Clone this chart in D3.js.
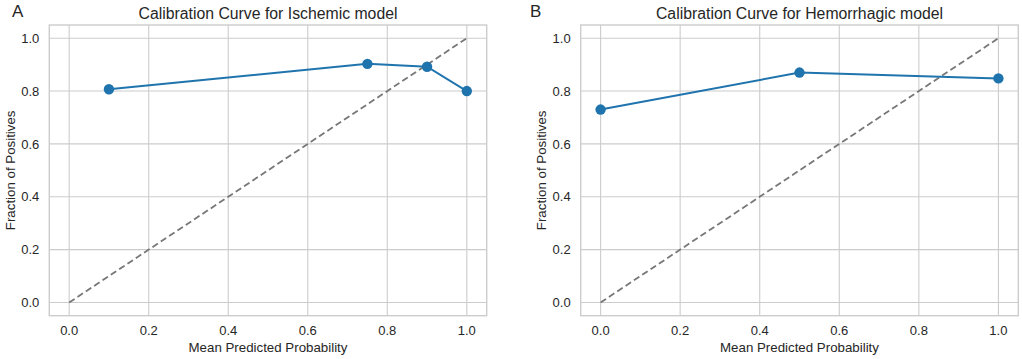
<!DOCTYPE html>
<html>
<head>
<meta charset="utf-8">
<script src="https://cdn.jsdelivr.net/npm/d3@7"></script>
<style>
  body { margin: 0; background: #fff; }
  svg { font-family: "Liberation Sans", Arial, sans-serif; }
</style>
</head>
<body>
<svg id="chart"></svg>
<script>
// Chart size
const width = 1022, height = 359;
const svg = d3.select("#chart").attr("width", width).attr("height", height);

// Calibration data for each model
const ischemicX = [0.1, 0.75, 0.9, 1.0];
const ischemicY = [0.807, 0.903, 0.892, 0.8];
const hemorrhagicX = [0.0, 0.5, 1.0];
const hemorrhagicY = [0.73, 0.87, 0.848];
const tickValues = [0.0, 0.2, 0.4, 0.6, 0.8, 1.0];

const panels = [
  { letter: "A", letterX: 12, title: "Calibration Curve for Ischemic model", xs: ischemicX, ys: ischemicY, left: 49.3, right: 486.7 },
  { letter: "B", letterX: 530, title: "Calibration Curve for Hemorrhagic model", xs: hemorrhagicX, ys: hemorrhagicY, left: 580.7, right: 1018.3 }
];

const plotTop = 25, plotBottom = 315.7;
const gridColor = "#cccccc", textColor = "#262626", lineColor = "#1f74ae";

panels.forEach(p => {
  const x = d3.scaleLinear().domain([-0.05, 1.05]).range([p.left, p.right]);
  const y = d3.scaleLinear().domain([-0.05, 1.05]).range([plotBottom, plotTop]);
  const g = svg.append("g");

  // grid lines
  g.selectAll(".vgrid").data(tickValues).join("line")
    .attr("x1", d => x(d)).attr("x2", d => x(d))
    .attr("y1", plotTop).attr("y2", plotBottom)
    .attr("stroke", gridColor).attr("stroke-width", 1.1);
  g.selectAll(".hgrid").data(tickValues).join("line")
    .attr("x1", p.left).attr("x2", p.right)
    .attr("y1", d => y(d)).attr("y2", d => y(d))
    .attr("stroke", gridColor).attr("stroke-width", 1.1);

  // frame
  g.append("rect")
    .attr("x", p.left).attr("y", plotTop)
    .attr("width", p.right - p.left).attr("height", plotBottom - plotTop)
    .attr("fill", "none").attr("stroke", gridColor).attr("stroke-width", 1.4);

  // tick labels
  g.selectAll(".xt").data(tickValues).join("text")
    .attr("x", d => x(d)).attr("y", plotBottom + 19.5)
    .attr("text-anchor", "middle").attr("font-size", 13).attr("fill", textColor)
    .text(d => d.toFixed(1));
  g.selectAll(".yt").data(tickValues).join("text")
    .attr("x", p.left - 10).attr("y", d => y(d) + 4.7)
    .attr("text-anchor", "end").attr("font-size", 13).attr("fill", textColor)
    .text(d => d.toFixed(1));

  // perfect calibration diagonal
  g.append("line")
    .attr("x1", x(0)).attr("y1", y(0)).attr("x2", x(1)).attr("y2", y(1))
    .attr("stroke", "#777").attr("stroke-width", 1.8)
    .attr("stroke-dasharray", "6.5,3.5");

  // calibration curve
  const pts = p.xs.map((v, i) => [v, p.ys[i]]);
  g.append("path")
    .datum(pts)
    .attr("d", d3.line().x(d => x(d[0])).y(d => y(d[1])))
    .attr("fill", "none").attr("stroke", lineColor).attr("stroke-width", 2);
  g.selectAll(".pt").data(pts).join("circle")
    .attr("cx", d => x(d[0])).attr("cy", d => y(d[1])).attr("r", 5.2)
    .attr("fill", lineColor);

  // titles and labels
  g.append("text")
    .attr("x", (p.left + p.right) / 2).attr("y", 18.5)
    .attr("text-anchor", "middle").attr("font-size", 15.8).attr("fill", textColor)
    .text(p.title);
  g.append("text")
    .attr("x", p.letterX).attr("y", 16.5)
    .attr("font-size", 17).attr("fill", textColor)
    .text(p.letter);
  g.append("text")
    .attr("x", (p.left + p.right) / 2).attr("y", plotBottom + 36.5)
    .attr("text-anchor", "middle").attr("font-size", 13.3).attr("fill", textColor)
    .text("Mean Predicted Probability");
  g.append("text")
    .attr("transform", `translate(${p.left - 34.5},${(plotTop + plotBottom) / 2}) rotate(-90)`)
    .attr("text-anchor", "middle").attr("font-size", 13.3).attr("fill", textColor)
    .text("Fraction of Positives");
});
</script>
</body>
</html>
